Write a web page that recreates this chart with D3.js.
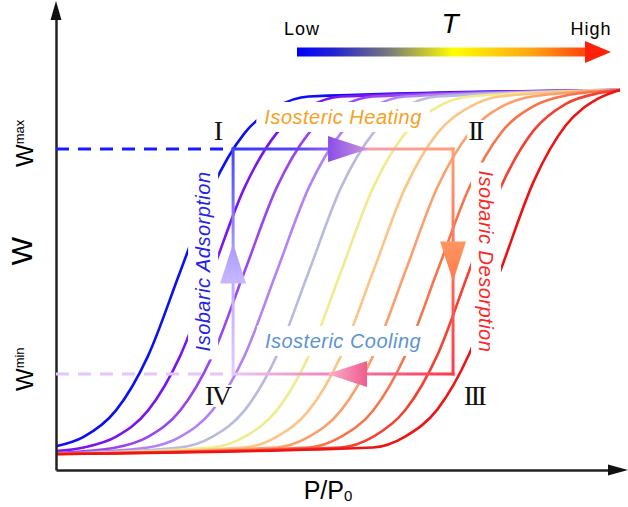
<!DOCTYPE html>
<html lang="en">
<head>
<meta charset="utf-8">
<script src="https://d3js.org/d3.v7.min.js"></script>
<style>
  body { margin: 0; background: #fff; }
  svg { display: block; font-family: "Liberation Sans", Arial, sans-serif; }
  .axis .domain { stroke: #222; stroke-width: 2.5px; }
</style>
</head>
<body>
<svg id="chart" width="628" height="507"></svg>
<script>
// isotherms W vs P/P0, low T (blue) -> high T (red)
const isoColors = ["#0a10f5", "#7a14f2", "#9b45f0", "#b482f2", "#b8bade", "#f2ea8e",
                   "#fcc585", "#fb9f6c", "#f7744c", "#f44232", "#ee1414"]
const isotherms = [
  [[0,.021],[.049,.047],[.106,.119],[.163,.269],[.220,.5],[.277,.731],[.334,.881],[.391,.953],[.448,.982],[1,1]],
  [[0,.008],[.049,.018],[.106,.047],[.163,.119],[.220,.269],[.277,.5],[.334,.731],[.391,.881],[.448,.953],[.505,.982],[1,1]],
  [[0,.003],[.106,.018],[.163,.047],[.220,.119],[.277,.269],[.334,.5],[.391,.731],[.448,.881],[.505,.953],[.562,.982],[1,1]],
  [[0,.001],[.163,.018],[.220,.047],[.277,.119],[.334,.269],[.391,.5],[.448,.731],[.505,.881],[.562,.953],[.619,.982],[1,1]],
  [[0,0],[.220,.018],[.277,.047],[.334,.119],[.391,.269],[.448,.5],[.505,.731],[.562,.881],[.619,.953],[.676,.982],[1,1]],
  [[0,0],[.277,.018],[.334,.047],[.391,.119],[.448,.269],[.505,.5],[.562,.731],[.619,.881],[.676,.953],[.733,.982],[1,1]],
  [[0,0],[.334,.018],[.391,.047],[.448,.119],[.505,.269],[.562,.5],[.619,.731],[.676,.881],[.733,.953],[.790,.983],[1,1]],
  [[0,0],[.391,.018],[.448,.047],[.505,.119],[.562,.269],[.619,.5],[.676,.732],[.733,.882],[.790,.954],[.847,.983],[1,1]],
  [[0,0],[.448,.018],[.505,.047],[.562,.119],[.619,.27],[.676,.502],[.733,.733],[.790,.884],[.847,.956],[.904,.985],[1,1]],
  [[0,0],[.505,.018],[.562,.047],[.619,.12],[.676,.271],[.733,.505],[.790,.738],[.847,.889],[.904,.962],[.961,.991],[1,1]],
  [[0,0],[.562,.018],[.619,.048],[.676,.122],[.733,.276],[.790,.512],[.847,.749],[.904,.903],[.961,.976],[1,1]]
]
// the cycle: I (pLow,wMax) -> II (pHigh,wMax) -> III (pHigh,wMin) -> IV (pLow,wMin)
const cycleP = [0.314, 0.704]
const wMax = 0.838
const wMin = 0.22
const cycleLabels = ["I", "II", "III", "IV"]
const stepLabels = ["Isosteric Heating", "Isobaric Desorption", "Isosteric Cooling", "Isobaric Adsorption"]
const tempLabels = ["Low", "T", "High"]

let svg = d3.select("#chart")
let defs = svg.append("defs")
let x = d3.scaleLinear().domain([0, 1]).range([56, 620])
let y = d3.scaleLinear().domain([0, 1]).range([454, 90])

let grad = (id, x1, y1, x2, y2, stops, units) => {
  let g = defs.append("linearGradient").attr("id", id)
    .attr("gradientUnits", units || "userSpaceOnUse")
    .attr("x1", x1).attr("y1", y1).attr("x2", x2).attr("y2", y2)
  g.selectAll("stop").data(stops).enter().append("stop")
    .attr("offset", d => d[0]).attr("stop-color", d => d[1])
}

// temperature legend
grad("gTemp", 297, 0, 610, 0, [[0, "#0000ff"], [0.12, "#2424d0"], [0.3, "#7c7c78"], [0.5, "#ffff00"], [0.75, "#ffa414"], [1, "#ff1a08"]])
svg.append("rect").attr("x", 297).attr("y", 47.5).attr("width", 290).attr("height", 9).attr("fill", "url(#gTemp)")
svg.append("path").attr("d", "M585,41L611,52L585,63Z").attr("fill", "#ff2208")
svg.append("text").attr("x", 302).attr("y", 35).attr("text-anchor", "middle").attr("font-size", 18)
  .attr("letter-spacing", 1).text(tempLabels[0])
svg.append("text").attr("x", 450).attr("y", 33).attr("text-anchor", "middle").attr("font-size", 28)
  .attr("font-style", "italic").text(tempLabels[1])
svg.append("text").attr("x", 591).attr("y", 35).attr("text-anchor", "middle").attr("font-size", 18)
  .attr("letter-spacing", 1).text(tempLabels[2])

// isotherms
let lineMaker = d3.line().x(d => x(d[0])).y(d => y(d[1])).curve(d3.curveMonotoneX)
svg.append("g").selectAll("path").data(isotherms).enter().append("path")
  .attr("d", lineMaker).attr("fill", "none")
  .attr("stroke", (d, i) => isoColors[i]).attr("stroke-width", 2.6)

// axes
let xAx = x.copy().domain([0, 1]).range([56, 620])
let yAx = y.copy().domain([y.invert(470), y.invert(14)]).range([470, 14])
svg.append("g").attr("class", "axis").attr("transform", "translate(0,470)")
  .call(d3.axisBottom(xAx).tickValues([]).tickSizeOuter(0))
svg.append("g").attr("class", "axis").attr("transform", "translate(56,0)")
  .call(d3.axisLeft(yAx).tickValues([]).tickSizeOuter(0))
svg.append("path").attr("d", "M608,464.5L628,470L608,475.5Z").attr("fill", "#111")
svg.append("path").attr("d", "M50.5,20L56,1L61.5,20Z").attr("fill", "#111")

svg.append("text").attr("transform", "translate(32,251) rotate(-90)").attr("text-anchor", "middle")
  .attr("font-size", 30).text("W")
let wLab = (w, sub, y0) => {
  let t = svg.append("text").attr("transform", `translate(33,${y0}) rotate(-90)`).attr("font-size", 24)
  t.append("tspan").text("W")
  t.append("tspan").attr("font-size", 13).attr("dy", -9).text(sub)
}
wLab(wMax, "max", 167)
wLab(wMin, "min", 391)
let pl = svg.append("text").attr("x", 328).attr("y", 499).attr("text-anchor", "middle").attr("font-size", 25)
pl.append("tspan").text("P/P")
pl.append("tspan").attr("font-size", 15).attr("dy", 2).text("0")

// labels with white boxes
let corner = [[x(cycleP[0]), y(wMax)], [x(cycleP[1]), y(wMax)], [x(cycleP[1]), y(wMin)], [x(cycleP[0]), y(wMin)]]
let midX = (corner[0][0] + corner[1][0]) / 2
let midY = (corner[0][1] + corner[3][1]) / 2
let boxed = (tf, txt, color, size, pad) => {
  let g = svg.append("g").attr("transform", tf)
  let r = g.append("rect").attr("fill", "#fff")
  let t = g.append("text").attr("text-anchor", "middle").attr("font-size", size).attr("fill", color)
    .attr("font-style", "italic").attr("letter-spacing", 0.5).text(txt)
  let b = t.node().getBBox()
  r.attr("x", b.x - pad[0]).attr("y", b.y - pad[1]).attr("width", b.width + 2 * pad[0]).attr("height", b.height + 2 * pad[1])
  return t
}
boxed(`translate(${midX},${corner[0][1] - 25})`, stepLabels[0], "#f5a11e", 20, [8, 4])
boxed(`translate(${corner[1][0] + 26},${midY}) rotate(90)`, stepLabels[1], "#ff2626", 20, [8, 4])
boxed(`translate(${midX},${corner[3][1] - 26})`, stepLabels[2], "#5b93d4", 20, [8, 4])
boxed(`translate(${corner[0][0] - 23},${midY}) rotate(-90)`, stepLabels[3], "#2222ee", 20, [8, 4])

// dashed guides at Wmax / Wmin
svg.append("line").attr("x1", x(0)).attr("x2", corner[0][0]).attr("y1", y(wMax)).attr("y2", y(wMax))
  .attr("stroke", "#1a1aff").attr("stroke-width", 3).attr("stroke-dasharray", "13,9")
svg.append("line").attr("x1", x(0)).attr("x2", corner[3][0]).attr("y1", y(wMin)).attr("y2", y(wMin))
  .attr("stroke", "#e4c6f8").attr("stroke-width", 3).attr("stroke-dasharray", "13,9")

// cycle sides
grad("gTop", corner[0][0], 0, corner[1][0], 0, [[0, "#3636f8"], [0.3, "#5a48f2"], [0.45, "#9a60e8"], [0.62, "#f2a0b0"], [1, "#ffa070"]])
grad("gRight", 0, corner[1][1], 0, corner[2][1], [[0, "#ffa070"], [1, "#ff3c48"]])
grad("gBot", corner[2][0], 0, corner[3][0], 0, [[0, "#ff3848"], [0.4, "#f070a0"], [1, "#e8c8f8"]])
grad("gLeft", 0, corner[3][1], 0, corner[0][1], [[0, "#e2ccff"], [0.5, "#b0a4ff"], [1, "#4444ff"]])
let sides = [["gTop", 0, 1], ["gRight", 1, 2], ["gBot", 2, 3], ["gLeft", 3, 0]]
svg.append("g").selectAll("line").data(sides).enter().append("line")
  .attr("x1", d => corner[d[1]][0]).attr("y1", d => corner[d[1]][1])
  .attr("x2", d => corner[d[2]][0]).attr("y2", d => corner[d[2]][1])
  .attr("stroke", d => `url(#${d[0]})`).attr("stroke-width", 3).attr("stroke-linecap", "square")

// arrowheads on each side
grad("aTop", 0, 0, 1, 0, [[0, "#8a4ee8"], [1, "#cc96dc"]], "objectBoundingBox")
grad("aRight", 0, 0, 0, 1, [[0, "#ff9660"], [1, "#ff7a50"]], "objectBoundingBox")
grad("aBot", 0, 0, 1, 0, [[0, "#f8b4d2"], [1, "#ef5c8c"]], "objectBoundingBox")
grad("aLeft", 0, 0, 0, 1, [[0, "#a898fc"], [1, "#c8b8ff"]], "objectBoundingBox")
let L = 20, H = 13
let arrows = [
  ["aTop", `M${midX + 5 - L},${corner[0][1] - H}L${midX + 5 + L},${corner[0][1]}L${midX + 5 - L},${corner[0][1] + H}Z`],
  ["aRight", `M${corner[1][0] - H},${midY - L}L${corner[1][0]},${midY + L}L${corner[1][0] + H},${midY - L}Z`],
  ["aBot", `M${midX + 4 + L},${corner[3][1] - H}L${midX + 4 - L},${corner[3][1]}L${midX + 4 + L},${corner[3][1] + H}Z`],
  ["aLeft", `M${corner[0][0] - H},${midY + 2 + L}L${corner[0][0]},${midY + 2 - L}L${corner[0][0] + H},${midY + 2 + L}Z`]
]
svg.append("g").selectAll("path").data(arrows).enter().append("path")
  .attr("d", d => d[1]).attr("fill", d => `url(#${d[0]})`)

// roman numerals at the corners
let numPos = [[-16, -9], [22, -9], [21, 31], [-16, 31]]
cycleLabels.forEach((lab, i) => {
  let g = svg.append("g").attr("transform", `translate(${corner[i][0] + numPos[i][0]},${corner[i][1] + numPos[i][1]})`)
  let r = g.append("rect").attr("fill", "#fff")
  let t = g.append("text").attr("text-anchor", "middle").attr("font-family", "'Liberation Serif', 'Times New Roman', serif")
    .attr("font-size", 28).attr("letter-spacing", -2.5).attr("fill", "#111").text(lab)
  let b = t.node().getBBox()
  r.attr("x", b.x - 1).attr("y", b.y + 5).attr("width", b.width + 2).attr("height", b.height - 9)
})
</script>
</body>
</html>
